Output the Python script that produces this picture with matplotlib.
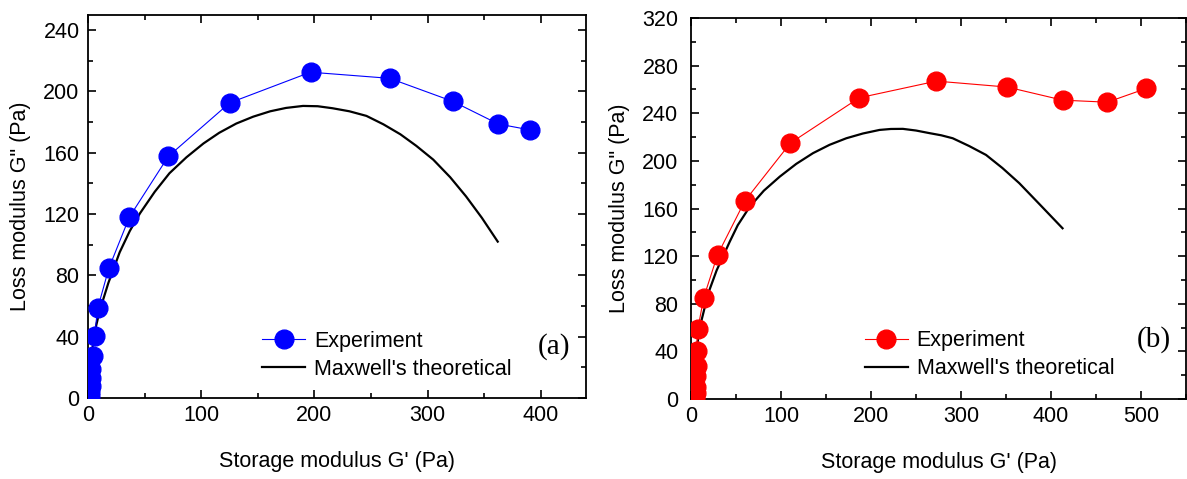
import matplotlib
matplotlib.use("Agg")
import matplotlib.pyplot as plt
from matplotlib.ticker import MultipleLocator

plt.rcParams['font.family'] = ['Liberation Sans', 'DejaVu Sans']

# ---- Panel (a) data ----
exp_a_x = [2.0, 2.2, 2.4, 2.6, 3.0, 4.1, 5.8, 8.6, 18.4, 36.6, 71.0, 125.2, 196.6, 266.5, 322.2, 362.6, 390.9]
exp_a_y = [1.0, 4.0, 8.0, 13.0, 19.0, 27.7, 40.4, 58.5, 84.5, 118.0, 157.6, 192.5, 212.5, 208.5, 193.5, 178.7, 174.8]
max_a_x = [1.5, 2.6, 6.2, 10.6, 18.0, 28.0, 37.0, 46.0, 59.0, 72.0, 87.0, 102.0, 116.0, 131.0, 146.0, 161.0,
           175.0, 190.0, 203.0, 216.0, 231.0, 246.0, 261.0, 276.0, 290.0, 305.0, 320.0, 334.0, 348.0, 362.0]
max_a_y = [1.0, 25.0, 44.0, 57.5, 75.0, 95.0, 109.0, 120.5, 134.5, 146.6, 157.0, 166.0, 173.0, 179.0, 183.5, 187.0,
           189.2, 190.5, 190.3, 189.0, 187.0, 184.0, 178.5, 172.0, 164.5, 155.5, 144.0, 131.5, 117.5, 102.0]

# ---- Panel (b) data ----
exp_b_x = [5.0, 5.2, 5.5, 5.8, 6.3, 6.3, 7.6, 14.2, 29.5, 59.8, 110.5, 187.0, 272.7, 351.4, 413.0, 462.5, 505.7]
exp_b_y = [1.0, 5.0, 10.0, 19.0, 27.6, 40.6, 58.6, 85.2, 121.0, 166.3, 215.0, 253.0, 267.0, 262.0, 251.0, 249.3, 260.8]
max_b_x = [0.8, 4.4, 10.0, 19.2, 28.5, 43.0, 52.0, 65.4, 81.0, 98.7, 117.0, 135.6, 154.0, 172.6, 191.0, 209.5,
           222.0, 235.4, 250.0, 265.0, 278.0, 290.8, 309.0, 327.8, 346.0, 364.7, 388.0, 412.8]
max_b_y = [2.0, 32.8, 60.8, 88.8, 108.0, 132.0, 146.0, 161.6, 175.0, 186.8, 197.5, 206.5, 213.5, 219.0, 223.0, 226.0,
           226.8, 226.9, 225.5, 223.3, 221.5, 219.0, 212.5, 205.0, 194.0, 181.3, 163.0, 143.4]

xlabel = "Storage modulus G' (Pa)"
ylabel = 'Loss modulus G" (Pa)'

fig = plt.figure(figsize=(11.87, 4.79), dpi=100)
ax1 = fig.add_axes([0.0741, 0.1691, 0.4937 - 0.0741, 0.9693 - 0.1691])
ax2 = fig.add_axes([0.5821, 0.1670, 0.9992 - 0.5821, 0.9624 - 0.1670])

FS = 15.5


def style(ax, xmax, ymax, yticks, ypad):
    ax.set_xlim(0, xmax)
    ax.set_ylim(0, ymax)
    ax.set_yticks(yticks)
    ax.xaxis.set_major_locator(MultipleLocator(100))
    ax.xaxis.set_minor_locator(MultipleLocator(50))
    ax.yaxis.set_minor_locator(MultipleLocator(20))
    ax.tick_params(which='both', direction='in', top=True, right=True, labelsize=FS, width=1.2)
    ax.tick_params(axis='x', which='both', pad=5)
    ax.tick_params(axis='y', which='both', pad=ypad)
    ax.tick_params(which='major', length=6)
    ax.tick_params(which='minor', length=3.5)
    for s in ax.spines.values():
        s.set_linewidth(1.3)
    ax.set_xlabel(xlabel, fontsize=FS, labelpad=18)
    ax.set_ylabel(ylabel, fontsize=FS, labelpad=9)


# Panel (a)
ax1.plot(exp_a_x, exp_a_y, '-o', color='#0000ff', lw=0.8, markersize=13.5,
         markeredgecolor='#0000ff', label='Experiment', zorder=3)
ax1.plot(max_a_x, max_a_y, '-', color='black', lw=1.6, label="Maxwell's theoretical", zorder=2)
style(ax1, 440, 250, [0, 40, 80, 120, 160, 200, 240], 6)
ax1.legend(loc='upper left', bbox_to_anchor=(0.32, 0.215), frameon=False, fontsize=FS,
           handlelength=2.0, handletextpad=0.4, labelspacing=0.33, borderpad=0.2)
ax1.text(0.935, 0.135, '(a)', transform=ax1.transAxes, family='Liberation Serif',
         fontsize=21, ha='center', va='center')

# Panel (b)
ax2.plot(exp_b_x, exp_b_y, '-o', color='#ff0000', lw=0.8, markersize=13.5,
         markeredgecolor='#ff0000', label='Experiment', zorder=3)
ax2.plot(max_b_x, max_b_y, '-', color='black', lw=1.6, label="Maxwell's theoretical", zorder=2)
style(ax2, 550, 320, [0, 40, 80, 120, 160, 200, 240, 280, 320], 9)
ax2.legend(loc='upper left', bbox_to_anchor=(0.321, 0.22), frameon=False, fontsize=FS,
           handlelength=2.0, handletextpad=0.4, labelspacing=0.33, borderpad=0.2)
ax2.text(0.935, 0.155, '(b)', transform=ax2.transAxes, family='Liberation Serif',
         fontsize=21, ha='center', va='center')

fig.savefig('out.png', dpi=100)
